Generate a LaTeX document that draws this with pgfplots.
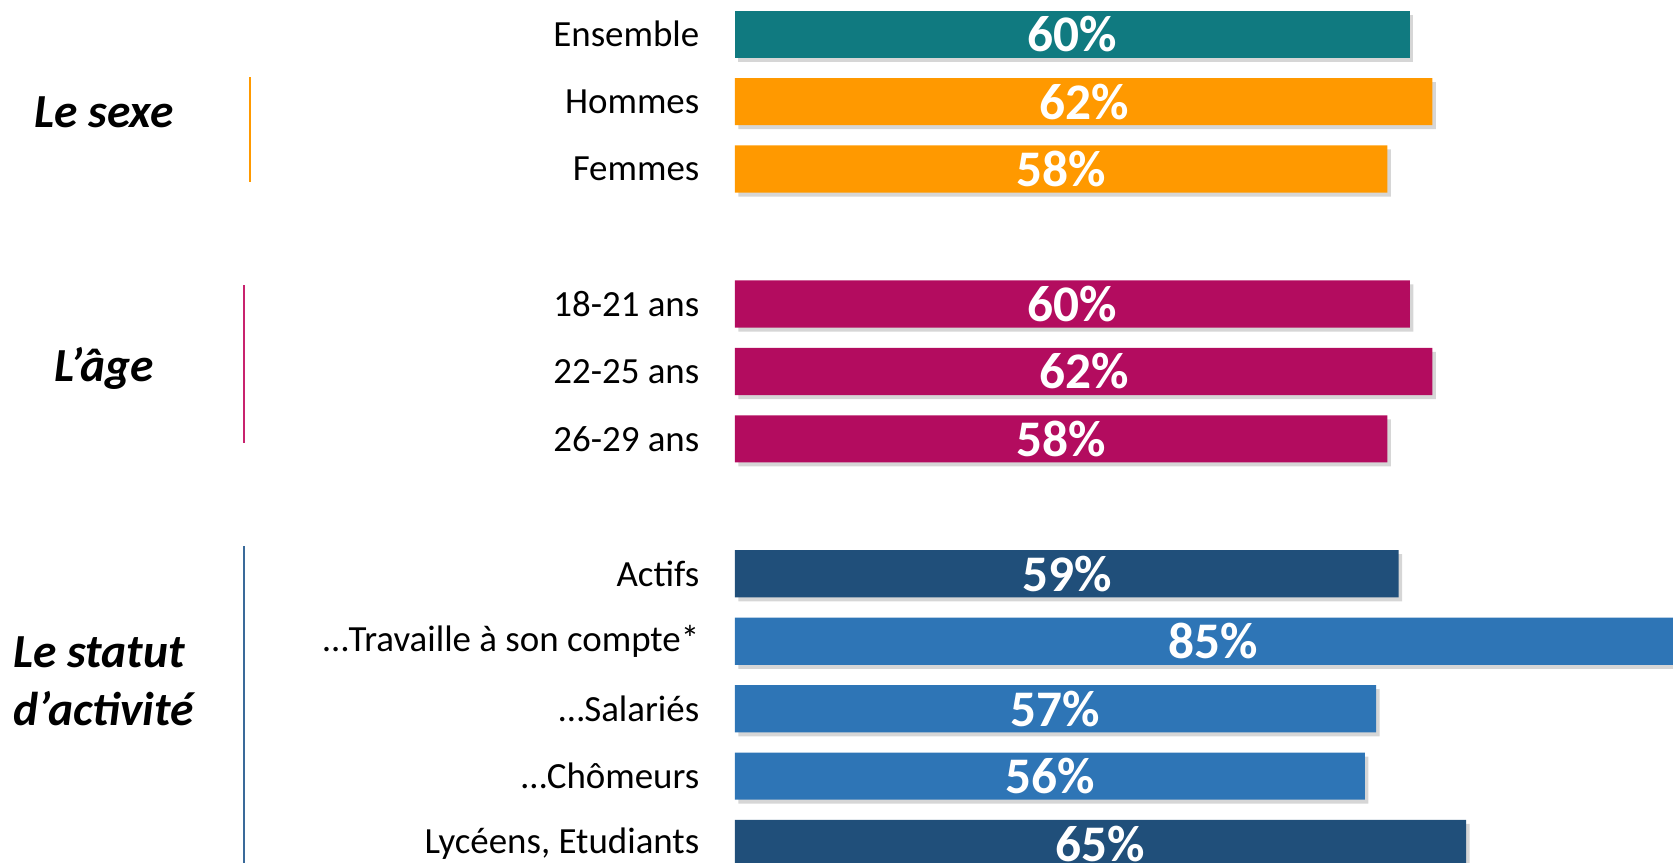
\documentclass[border=0pt]{standalone}
\usepackage{fontspec}
\setmainfont{Carlito}
\usepackage{pgfplots}
\pgfplotsset{compat=1.18}
\usepackage{pgfplotstable}
\usetikzlibrary{shadows}

\definecolor{cteal}{HTML}{107A80}
\definecolor{corange}{HTML}{FF9900}
\definecolor{cmag}{HTML}{B30C5F}
\definecolor{cdark}{HTML}{204F7A}
\definecolor{cmid}{HTML}{2E75B6}
\definecolor{cmagline}{HTML}{C8236E}
\definecolor{cblueline}{HTML}{3A6A9A}

\pgfplotstableread{
idx v
0 60
}\tteal
\pgfplotstableread{
idx v
1 62
2 58
}\torange
\pgfplotstableread{
idx v
4 60
5 62
6 58
}\tmag
\pgfplotstableread{
idx v
8 59
12 65
}\tdark
\pgfplotstableread{
idx v
9 85
10 57
11 56
}\tmid
\pgfplotstableread{
idx v
0 60
1 62
2 58
4 60
5 62
6 58
8 59
9 85
10 57
11 56
12 65
}\tall

\begin{document}
\begin{tikzpicture}
\begin{axis}[
  scale only axis,
  width=16.73cm, height=8.63cm,
  xmin=-65.33, xmax=83.38,
  ymin=-0.507, ymax=12.288,
  y dir=reverse,
  hide axis,
  clip=true,
  mybar/.style={xbar, bar width=0.7, bar shift=0pt, draw=none,
    drop shadow={shadow xshift=0.35mm, shadow yshift=-0.4mm, fill=black, opacity=0.16}},
]
\coordinate (SW) at (rel axis cs:0,0);
\coordinate (NE) at (rel axis cs:1,1);
\addplot[mybar, fill=cteal] table[x=v, y=idx] {\tteal};
\addplot[mybar, fill=corange] table[x=v, y=idx] {\torange};
\addplot[mybar, fill=cmag] table[x=v, y=idx] {\tmag};
\addplot[mybar, fill=cdark] table[x=v, y=idx] {\tdark};
\addplot[mybar, fill=cmid] table[x=v, y=idx] {\tmid};
% value labels centred in bars
\addplot[draw=none, mark=none, only marks,
  point meta=explicit,
  nodes near coords={\pgfmathprintnumber[fixed,precision=0,assume math mode=true]{\pgfplotspointmeta}\%},
  every node near coord/.style={anchor=center, text=white, font=\fontsize{14.6}{16}\selectfont\bfseries, inner sep=0pt},
] table[x expr=\thisrow{v}/2, y=idx, meta=v] {\tall};

% category labels
\begin{scope}[every node/.style={anchor=east, inner sep=0pt, font=\fontsize{10.5}{12}\selectfont}]
\node at (axis cs:-3.11,0) {Ensemble};
\node at (axis cs:-3.11,1) {Hommes};
\node at (axis cs:-3.11,2) {Femmes};
\node at (axis cs:-3.11,4) {18-21 ans};
\node at (axis cs:-3.11,5) {22-25 ans};
\node at (axis cs:-3.11,6) {26-29 ans};
\node at (axis cs:-3.11,8) {Actifs};
\node at (axis cs:-3.11,9) {…Travaille à son compte*};
\node at (axis cs:-3.11,10) {…Salariés};
\node at (axis cs:-3.11,11) {…Chômeurs};
\node at (axis cs:-3.11,12) {Lycéens, Etudiants};
\end{scope}

% group labels
\begin{scope}[every node/.style={anchor=center, inner sep=0pt, align=left, font=\fontsize{13.5}{16.5}\selectfont\bfseries\itshape}]
\node at (axis cs:-56.1,1.16) {Le sexe};
\node at (axis cs:-56.1,4.96) {L’âge};
\node at (axis cs:-56.1,9.60) {Le statut\\d’activité};
\end{scope}

% separator lines
\draw[corange, line width=0.6pt] (axis cs:-43.1,0.635) -- (axis cs:-43.1,2.19);
\draw[cmagline, line width=0.6pt] (axis cs:-43.64,3.72) -- (axis cs:-43.64,6.06);
\draw[cblueline, line width=0.6pt] (axis cs:-43.64,7.59) -- (axis cs:-43.64,12.5);
\end{axis}
\pgfresetboundingbox
\path[use as bounding box] (SW) rectangle (NE);
\end{tikzpicture}
\end{document}
